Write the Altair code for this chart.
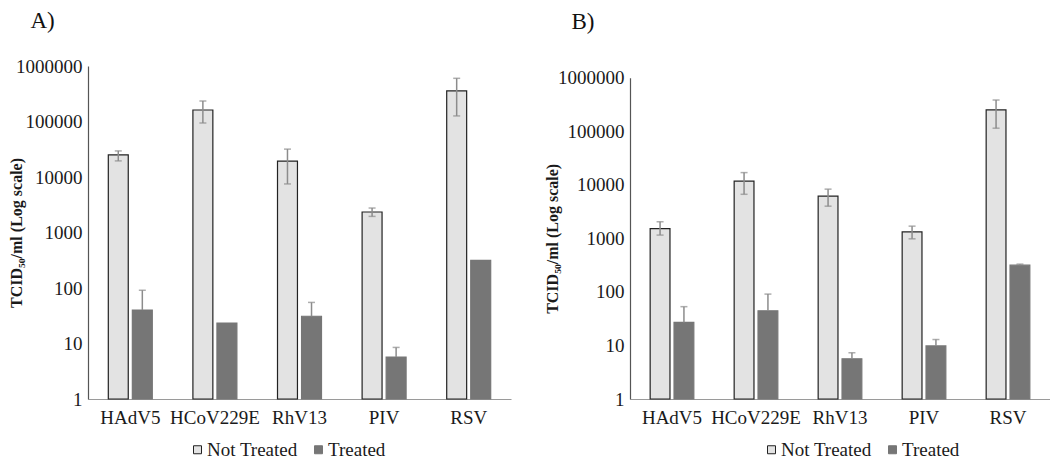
import altair as alt
import pandas as pd
import numpy as np

viruses = ["HAdV5", "HCoV229E", "RhV13", "PIV", "RSV"]
series = ["Not Treated", "Treated"]
y_ticks = [1, 10, 100, 1000, 10000, 100000, 1000000]

# Panel A
a_nt = [25000, 161000, 19400, 2340, 355000]
a_nt_lo = [19500, 94000, 7500, 1950, 126000]
a_nt_hi = [29500, 234000, 31800, 2760, 600000]
a_t = [40, 23.4, 31, 5.7, 315]
a_t_hi = [91, None, 55, 8.5, None]

# Panel B
b_nt = [1520, 11700, 6140, 1320, 250000]
b_nt_lo = [1150, 6650, 3990, 980, 114000]
b_nt_hi = [2040, 16900, 8300, 1690, 383000]
b_t = [26.9, 44.5, 5.65, 9.8, 316]
b_t_hi = [53, 91, 7.3, 12.9, 330]

FONT = "Liberation Serif"
NT_FILL = "#e3e3e3"
T_FILL = "#767676"
ERR = "#8c8c8c"


def make_df(nt, nt_lo, nt_hi, t, t_hi):
    rows = []
    for i, v in enumerate(viruses):
        rows.append(dict(virus=v, series="Not Treated", value=nt[i], lo=nt_lo[i], hi=nt_hi[i]))
        hi = t_hi[i] if t_hi[i] is not None else np.nan
        rows.append(dict(virus=v, series="Treated", value=t[i], lo=t[i], hi=hi))
    return pd.DataFrame(rows)


def panel(df, w, h, yrange, title, dx, toff, tpad, lx, ly):
    x = alt.X("virus:N", sort=viruses,
              scale=alt.Scale(paddingInner=0.48, paddingOuter=0.24),
              axis=alt.Axis(title=None, labelAngle=0, ticks=False, labelPadding=9,
                            labelFont=FONT, labelFontSize=19,
                            domainColor="#9a9a9a", domainWidth=1.2))
    xo = alt.XOffset("series:N", sort=series,
                     scale=alt.Scale(paddingInner=0.17, paddingOuter=0))
    yscale = alt.Scale(type="log", domain=[1, 1000000], range=yrange)
    y = alt.Y("value:Q", scale=yscale,
              axis=alt.Axis(values=y_ticks, format="d", grid=False, ticks=False,
                            labelPadding=6, labelFont=FONT, labelFontSize=19,
                            title="TCID₅₀/ml (Log scale)", titleFont=FONT,
                            titleFontWeight="bold", titleFontSize=16, titlePadding=tpad,
                            domainColor="#555555", domainWidth=1.2))
    leg = alt.Legend(title=None, orient="none", legendX=lx, legendY=ly,
                     direction="horizontal", symbolType="square", symbolSize=64,
                     symbolStrokeWidth=1, symbolOffset=6, labelFontSize=19, labelFont=FONT,
                     labelColor="#1a1a1a", labelOffset=0, columnPadding=5)
    fill = alt.Fill("series:N", sort=series,
                    scale=alt.Scale(domain=series, range=[NT_FILL, T_FILL]), legend=leg)
    stroke = alt.Stroke("series:N", sort=series,
                        scale=alt.Scale(domain=series, range=["#222222", T_FILL]), legend=leg)
    bars = alt.Chart(df).mark_bar(strokeWidth=1.2).encode(
        x=x, xOffset=xo, y=y, y2=alt.datum(1), fill=fill, stroke=stroke)
    err = df.dropna(subset=["hi"])
    rules = alt.Chart(err).mark_rule(color=ERR, strokeWidth=1.5).encode(
        x=x, xOffset=xo, y=alt.Y("lo:Q", scale=yscale), y2="hi:Q")
    caps_hi = alt.Chart(err).mark_tick(color=ERR, thickness=1.5, size=7).encode(
        x=x, xOffset=xo, y=alt.Y("hi:Q", scale=yscale))
    caps_lo = alt.Chart(err[err["series"] == "Not Treated"]).mark_tick(
        color=ERR, thickness=1.5, size=7).encode(
        x=x, xOffset=xo, y=alt.Y("lo:Q", scale=yscale))
    return alt.layer(bars, rules, caps_hi, caps_lo).properties(
        width=w, height=h,
        title=alt.TitleParams(title, anchor="start", dx=dx, offset=toff,
                              fontSize=23, font=FONT, fontWeight="normal", color="#111111"))


dfa = make_df(a_nt, a_nt_lo, a_nt_hi, a_t, a_t_hi)
dfb = make_df(b_nt, b_nt_lo, b_nt_hi, b_t, b_t_hi)

pa = panel(dfa, 423, 333, [333, 0], "A)", 22, 24, -9, 94, 374)
pb = panel(dfb, 420, 333, [333, 11.7], "B)", 27, 32, -3, 126, 374)

chart = alt.hconcat(pa, pb, spacing=33).resolve_scale(
    x="independent", y="independent", color="independent",
    fill="independent", stroke="independent", xOffset="independent"
).resolve_legend(fill="independent", stroke="independent").properties(
    padding={"left": 0, "top": 2, "right": 0, "bottom": 0}
).configure(font=FONT).configure_view(stroke=None).configure_axis(
    labelFont=FONT, titleFont=FONT, labelFontSize=19, labelColor="#1a1a1a",
    titleColor="#1a1a1a"
).configure_legend(labelFont=FONT, labelFontSize=19, labelColor="#1a1a1a")

chart.save("out.html", embed_options={"renderer": "svg", "actions": False})
